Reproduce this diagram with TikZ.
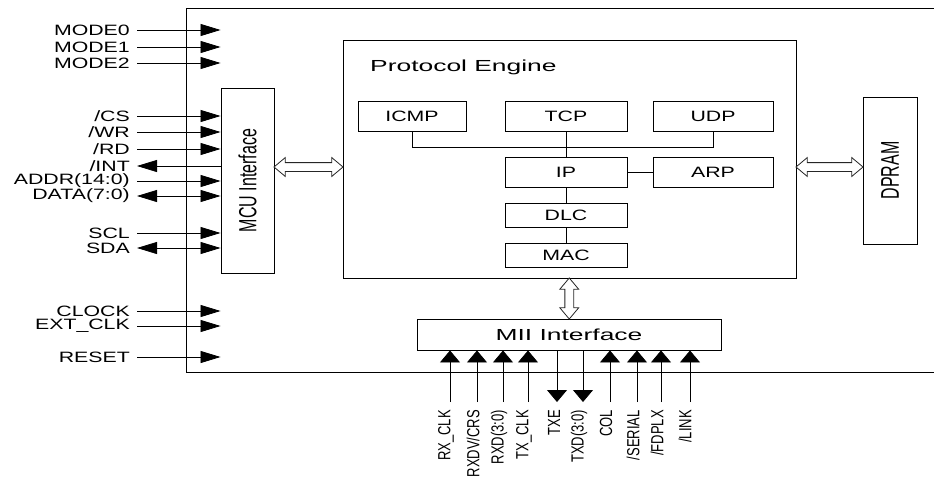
\documentclass[tikz,border=0pt]{standalone}
\usepackage{fontspec}
\setmainfont[FakeStretch=1.42]{Liberation Sans}
\newfontfamily\widefont[FakeStretch=1.65]{Liberation Sans}
\newfontfamily\rotfont{Liberation Sans}
\usetikzlibrary{arrows.meta,shapes.arrows,calc}
\newcommand{\tall}[2][1.55]{\scalebox{1}[#1]{#2}}

\tikzset{
  htip/.tip={Triangle[length=20pt,width=12pt]},
  vtip/.tip={Triangle[length=12pt,width=20pt]},
  blk/.style={draw,line width=0.9pt,inner sep=0pt,font=\fontsize{15}{15}\selectfont},
  sig/.style={anchor=east,inner sep=0pt,font=\fontsize{15}{15}\selectfont},
  pin/.style={anchor=east,inner sep=0pt,font=\rotfont\fontsize{13}{13}\selectfont},
  hin/.style={line width=0.8pt,-htip},
  hout/.style={line width=0.8pt,htip-},
  hio/.style={line width=0.8pt,htip-htip},
  vsig/.style={line width=0.8pt,-vtip},
  bus/.style={double arrow,draw=black!85,line width=0.8pt,fill=white,inner xsep=0pt,
    inner ysep=4pt,text height=0pt,text depth=0pt,double arrow head extend=5pt,
    double arrow head indent=0pt,double arrow tip angle=80}
}

\begin{document}
\begin{tikzpicture}[x=1pt,y=-1pt]
\useasboundingbox (0,0) rectangle (934,477);

\draw[line width=0.9pt] (934,8) -| (186,372) -- (934,372);

\node[blk,minimum width=53,minimum height=185] (mcu) at (247.5,180.5) {\rotatebox{90}{\rotfont\fontsize{16}{16}\selectfont\tall{MCU Interface}}};
\node[blk,minimum width=453,minimum height=238] (pe) at (569.5,159) {};
\node[anchor=west,inner sep=0pt,font=\widefont\fontsize{16}{16}\selectfont] (pename) at (370,67) {Protocol Engine};
\node[blk,minimum width=108,minimum height=30] (icmp) at (412,116) {ICMP};
\node[blk,minimum width=122,minimum height=30] (tcp) at (566,116) {TCP};
\node[blk,minimum width=120,minimum height=30] (udp) at (713,116) {UDP};
\node[blk,minimum width=122,minimum height=30] (ip) at (566,172) {IP};
\node[blk,minimum width=120,minimum height=30] (arp) at (713,172) {ARP};
\node[blk,minimum width=122,minimum height=24] (dlc) at (566,215) {DLC};
\node[blk,minimum width=122,minimum height=24] (mac) at (566,255) {MAC};
\node[blk,minimum width=54,minimum height=147] (dpram) at (890,170.5) {\rotatebox{90}{\rotfont\fontsize{16}{16}\selectfont\tall[1.6]{DPRAM}}};
\node[blk,minimum width=304,minimum height=31,font=\widefont\fontsize{16}{16}\selectfont] (mii) at (569,334.5) {MII Interface};

\draw[line width=0.9pt] (icmp.south) -- ++(0,16) -| (udp.south);
\draw[line width=0.9pt] (tcp) -- (ip);
\draw[line width=0.9pt] (ip) -- (arp);
\draw[line width=0.9pt] (ip) -- (dlc);
\draw[line width=0.9pt] (dlc) -- (mac);

\coordinate (busy) at (0,167);
\node[bus,minimum height=69] (mcupe) at ($(mcu.east |- busy)!0.5!(pe.west |- busy)$) {};
\node[bus,minimum height=67] (pedp) at ($(pe.east |- busy)!0.5!(dpram.west |- busy)$) {};
\node[bus,minimum height=41,rotate=90] (pemii) at ($(pe.south)!0.5!(mii.north)$) {};

\node[sig] (mode0) at (130,30) {MODE0};
\node[sig] (mode1) at (130,47) {MODE1};
\node[sig] (mode2) at (130,63) {MODE2};
\node[sig] (cs) at (130,116) {/CS};
\node[sig] (wr) at (130,132) {/WR};
\node[sig] (rd) at (130,149) {/RD};
\node[sig] (int) at (130,166) {/INT};
\node[sig] (addr) at (130,181) {ADDR(14:0)};
\node[sig] (data) at (130,196) {DATA(7:0)};
\node[sig] (scl) at (130,233) {SCL};
\node[sig] (sda) at (130,248) {SDA};
\node[sig] (clock) at (130,311) {CLOCK};
\node[sig] (extclk) at (130,326) {EXT\_CLK};
\node[sig] (reset) at (130,357) {RESET};

\draw[hin] ([xshift=7pt]mode0.east) -- (mode0 -| mcu.west);
\draw[hin] ([xshift=7pt]mode1.east) -- (mode1 -| mcu.west);
\draw[hin] ([xshift=7pt]mode2.east) -- (mode2 -| mcu.west);
\draw[hin] ([xshift=7pt]cs.east) -- (cs -| mcu.west);
\draw[hin] ([xshift=7pt]wr.east) -- (wr -| mcu.west);
\draw[hin] ([xshift=7pt]rd.east) -- (rd -| mcu.west);
\draw[hout] ([xshift=7pt]int.east) -- (int -| mcu.west);
\draw[hin] ([xshift=7pt]addr.east) -- (addr -| mcu.west);
\draw[hio] ([xshift=7pt]data.east) -- (data -| mcu.west);
\draw[hin] ([xshift=7pt]scl.east) -- (scl -| mcu.west);
\draw[hio] ([xshift=7pt]sda.east) -- (sda -| mcu.west);
\draw[hin] ([xshift=7pt]clock.east) -- (clock -| mcu.west);
\draw[hin] ([xshift=7pt]extclk.east) -- (extclk -| mcu.west);
\draw[hin] ([xshift=7pt]reset.east) -- (reset -| mcu.west);

\coordinate (rxclk) at (450,402);
\coordinate (rxdv) at (477,402);
\coordinate (rxd) at (503,402);
\coordinate (txclk) at (528,402);
\coordinate (txe) at (557,402);
\coordinate (txd) at (583,402);
\coordinate (col) at (610,402);
\coordinate (serial) at (637,402);
\coordinate (fdplx) at (661,402);
\coordinate (link) at (690,402);

\node[pin,rotate=90] (rxclkl) at (446,410) {\tall[1.35]{RX\_CLK}};
\node[pin,rotate=90] (rxdvl) at (473,410) {\tall[1.35]{RXDV/CRS}};
\node[pin,rotate=90] (rxdl) at (499,410) {\tall[1.35]{RXD(3:0)}};
\node[pin,rotate=90] (txclkl) at (524,410) {\tall[1.35]{TX\_CLK}};
\node[pin,rotate=90] (txel) at (554,410) {\tall[1.35]{TXE}};
\node[pin,rotate=90] (txdl) at (579,410) {\tall[1.35]{TXD(3:0)}};
\node[pin,rotate=90] (coll) at (606,410) {\tall[1.35]{COL}};
\node[pin,rotate=90] (seriall) at (633,410) {\tall[1.35]{/SERIAL}};
\node[pin,rotate=90] (fdplxl) at (657,410) {\tall[1.35]{/FDPLX}};
\node[pin,rotate=90] (linkl) at (685,410) {\tall[1.35]{/LINK}};

\draw[vsig] (rxclk) -- (rxclk |- mii.south);
\draw[vsig] (rxdv) -- (rxdv |- mii.south);
\draw[vsig] (rxd) -- (rxd |- mii.south);
\draw[vsig] (txclk) -- (txclk |- mii.south);
\draw[vsig] (txe |- mii.south) -- (txe);
\draw[vsig] (txd |- mii.south) -- (txd);
\draw[vsig] (col) -- (col |- mii.south);
\draw[vsig] (serial) -- (serial |- mii.south);
\draw[vsig] (fdplx) -- (fdplx |- mii.south);
\draw[vsig] (link) -- (link |- mii.south);

\end{tikzpicture}
\end{document}
